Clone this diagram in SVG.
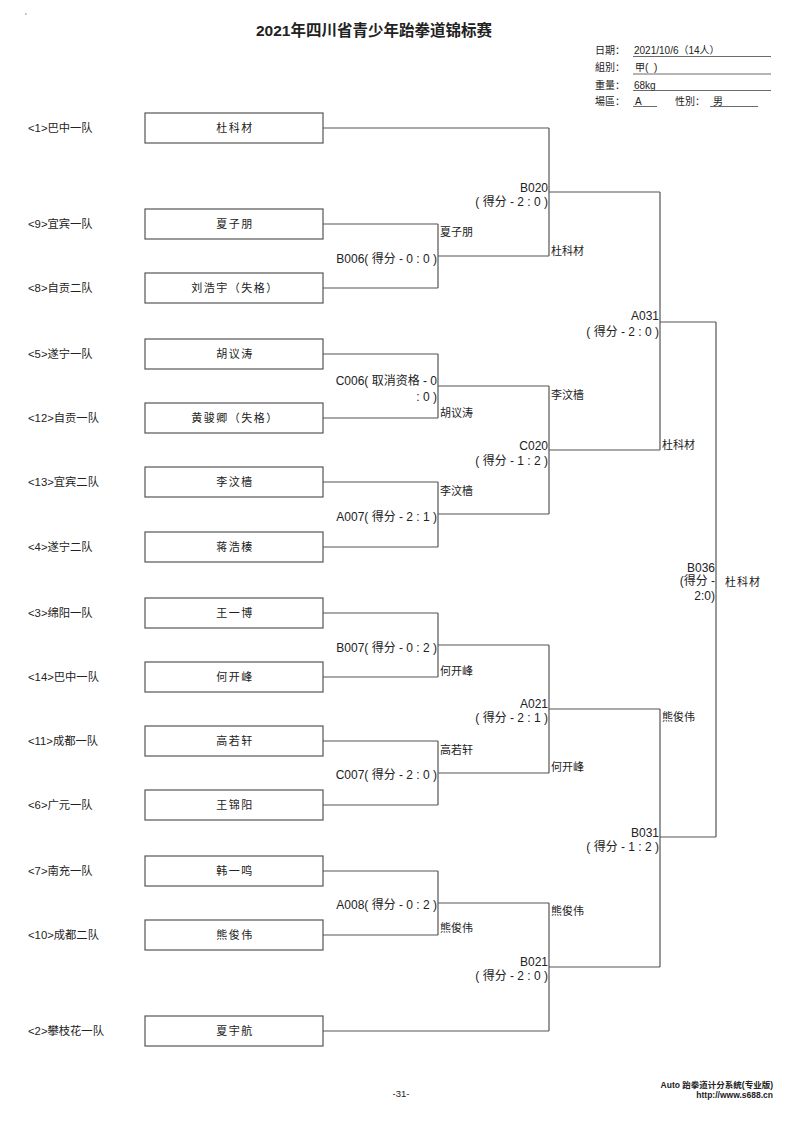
<svg xmlns="http://www.w3.org/2000/svg" width="800" height="1130" viewBox="0 0 800 1130">
<style>
text{font-family:"Liberation Sans","Noto Sans CJK SC",sans-serif;fill:#222;}
.title{font-size:15.5px;font-weight:bold;}
.info{font-size:10px;}
.team{font-size:11.3px;}
.name{font-size:11px;letter-spacing:1.5px;text-anchor:middle;}
.lbl{font-size:12px;text-anchor:end;}
.win{font-size:11px;}
.foot{font-size:8.5px;font-weight:bold;}
.box{fill:#fff;stroke:#555;stroke-width:1.2;}
.ln{fill:none;stroke:#555;stroke-width:1.2;}
.ul{stroke:#444;stroke-width:0.8;}
</style>
<rect width="800" height="1130" fill="#fff"/>
<rect x="25.5" y="13" width="0.8" height="2" fill="#777"/>
<text class="title" x="374" y="36" text-anchor="middle">2021年四川省青少年跆拳道锦标赛</text>
<g id="info">
<text class="info" x="595" y="54">日期：</text>
<text class="info" x="634" y="54">2021/10/6（14人）</text>
<line class="ul" x1="633" y1="56.5" x2="771" y2="56.5"/>
<text class="info" x="595" y="71">組別：</text>
<text class="info" x="635" y="71">甲(&#160;&#160;)</text>
<line class="ul" x1="633" y1="74" x2="771" y2="74"/>
<text class="info" x="595" y="89">重量：</text>
<text class="info" x="634" y="89">68kg</text>
<line class="ul" x1="633" y1="90.5" x2="771" y2="90.5"/>
<text class="info" x="595" y="105">場區：</text>
<text class="info" x="635" y="105">A</text>
<line class="ul" x1="633" y1="106.5" x2="657" y2="106.5"/>
<text class="info" x="675" y="105">性別：</text>
<text class="info" x="713" y="105">男</text>
<line class="ul" x1="710" y1="106.5" x2="758" y2="106.5"/>
</g>
<g id="connectors">
<path class="ln" d="M323,128H549 M323,224H438 M323,288H438 M438,224V288 M438,256H549 M549,128V256 M549,192H660"/>
<path class="ln" d="M323,354H438 M323,418H438 M438,354V418 M438,386H549 M323,482H438 M323,547H438 M438,482V547 M438,514H549 M549,386V514 M549,450H660 M660,192V450 M660,322H716"/>
<path class="ln" d="M323,613H438 M323,677H438 M438,613V677 M438,645H549 M323,741H438 M323,805H438 M438,741V805 M438,773H549 M549,645V773 M549,709H660"/>
<path class="ln" d="M323,871H438 M323,935H438 M438,871V935 M438,903H549 M323,1031H549 M549,903V1031 M549,967H660 M660,709V967 M660,837H716 M716,322V837"/>
</g>
<g id="p1"><text class="team" x="28" y="132">&lt;1&gt;巴中一队</text><rect class="box" x="145" y="113" width="178" height="30"/><text class="name" x="235" y="132">杜科材</text></g>
<g id="p9"><text class="team" x="28" y="228">&lt;9&gt;宜宾一队</text><rect class="box" x="145" y="209" width="178" height="30"/><text class="name" x="235" y="228">夏子朋</text></g>
<g id="p8"><text class="team" x="28" y="292">&lt;8&gt;自贡二队</text><rect class="box" x="145" y="273" width="178" height="30"/><text class="name" x="235" y="292">刘浩宇（失格）</text></g>
<g id="p5"><text class="team" x="28" y="358">&lt;5&gt;遂宁一队</text><rect class="box" x="145" y="339" width="178" height="30"/><text class="name" x="235" y="358">胡议涛</text></g>
<g id="p12"><text class="team" x="28" y="422">&lt;12&gt;自贡一队</text><rect class="box" x="145" y="403" width="178" height="30"/><text class="name" x="235" y="422">黄骏卿（失格）</text></g>
<g id="p13"><text class="team" x="28" y="486">&lt;13&gt;宜宾二队</text><rect class="box" x="145" y="467" width="178" height="30"/><text class="name" x="235" y="486">李汶樯</text></g>
<g id="p4"><text class="team" x="28" y="551">&lt;4&gt;遂宁二队</text><rect class="box" x="145" y="532" width="178" height="30"/><text class="name" x="235" y="551">蒋浩楱</text></g>
<g id="p3"><text class="team" x="28" y="617">&lt;3&gt;绵阳一队</text><rect class="box" x="145" y="598" width="178" height="30"/><text class="name" x="235" y="617">王一博</text></g>
<g id="p14"><text class="team" x="28" y="681">&lt;14&gt;巴中一队</text><rect class="box" x="145" y="662" width="178" height="30"/><text class="name" x="235" y="681">何开峰</text></g>
<g id="p11"><text class="team" x="28" y="745">&lt;11&gt;成都一队</text><rect class="box" x="145" y="726" width="178" height="30"/><text class="name" x="235" y="745">高若轩</text></g>
<g id="p6"><text class="team" x="28" y="809">&lt;6&gt;广元一队</text><rect class="box" x="145" y="790" width="178" height="30"/><text class="name" x="235" y="809">王锦阳</text></g>
<g id="p7"><text class="team" x="28" y="875">&lt;7&gt;南充一队</text><rect class="box" x="145" y="856" width="178" height="30"/><text class="name" x="235" y="875">韩一鸣</text></g>
<g id="p10"><text class="team" x="28" y="939">&lt;10&gt;成都二队</text><rect class="box" x="145" y="920" width="178" height="30"/><text class="name" x="235" y="939">熊俊伟</text></g>
<g id="p2"><text class="team" x="28" y="1035">&lt;2&gt;攀枝花一队</text><rect class="box" x="145" y="1016" width="178" height="30"/><text class="name" x="235" y="1035">夏宇航</text></g>
<g id="matches">
<text class="lbl" x="437" y="263">B006( 得分 - 0 : 0 )</text>
<text class="lbl" x="437" y="385">C006( 取消资格 - 0</text>
<text class="lbl" x="437" y="401">: 0 )</text>
<text class="lbl" x="437" y="521">A007( 得分 - 2 : 1 )</text>
<text class="lbl" x="437" y="652">B007( 得分 - 0 : 2 )</text>
<text class="lbl" x="437" y="779">C007( 得分 - 2 : 0 )</text>
<text class="lbl" x="437" y="909">A008( 得分 - 0 : 2 )</text>
<text class="lbl" x="548" y="192">B020</text>
<text class="lbl" x="548" y="206">( 得分 - 2 : 0 )</text>
<text class="lbl" x="548" y="450">C020</text>
<text class="lbl" x="548" y="465">( 得分 - 1 : 2 )</text>
<text class="lbl" x="548" y="708">A021</text>
<text class="lbl" x="548" y="722">( 得分 - 2 : 1 )</text>
<text class="lbl" x="548" y="966">B021</text>
<text class="lbl" x="548" y="980">( 得分 - 2 : 0 )</text>
<text class="lbl" x="659" y="320">A031</text>
<text class="lbl" x="659" y="336">( 得分 - 2 : 0 )</text>
<text class="lbl" x="659" y="837">B031</text>
<text class="lbl" x="659" y="851">( 得分 - 1 : 2 )</text>
<text class="lbl" x="715" y="572">B036</text>
<text class="lbl" x="715" y="585">(得分 -</text>
<text class="lbl" x="715" y="600">2:0)</text>
</g>
<g id="winners">
<text class="win" x="440" y="236">夏子朋</text>
<text class="win" x="440" y="417">胡议涛</text>
<text class="win" x="440" y="495">李汶樯</text>
<text class="win" x="440" y="675">何开峰</text>
<text class="win" x="440" y="754">高若轩</text>
<text class="win" x="440" y="932">熊俊伟</text>
<text class="win" x="551" y="255">杜科材</text>
<text class="win" x="551" y="399">李汶樯</text>
<text class="win" x="551" y="771">何开峰</text>
<text class="win" x="551" y="915">熊俊伟</text>
<text class="win" x="662" y="449">杜科材</text>
<text class="win" x="662" y="721">熊俊伟</text>
<text class="win" x="725" y="586" letter-spacing="1">杜科材</text>
</g>
<g id="footer">
<text x="401" y="1097" text-anchor="middle" font-size="9.5">-31-</text>
<text class="foot" x="773" y="1088" text-anchor="end">Auto 跆拳道计分系统(专业版)</text>
<text class="foot" x="773" y="1098" text-anchor="end">http://www.s688.cn</text>
</g>
</svg>
